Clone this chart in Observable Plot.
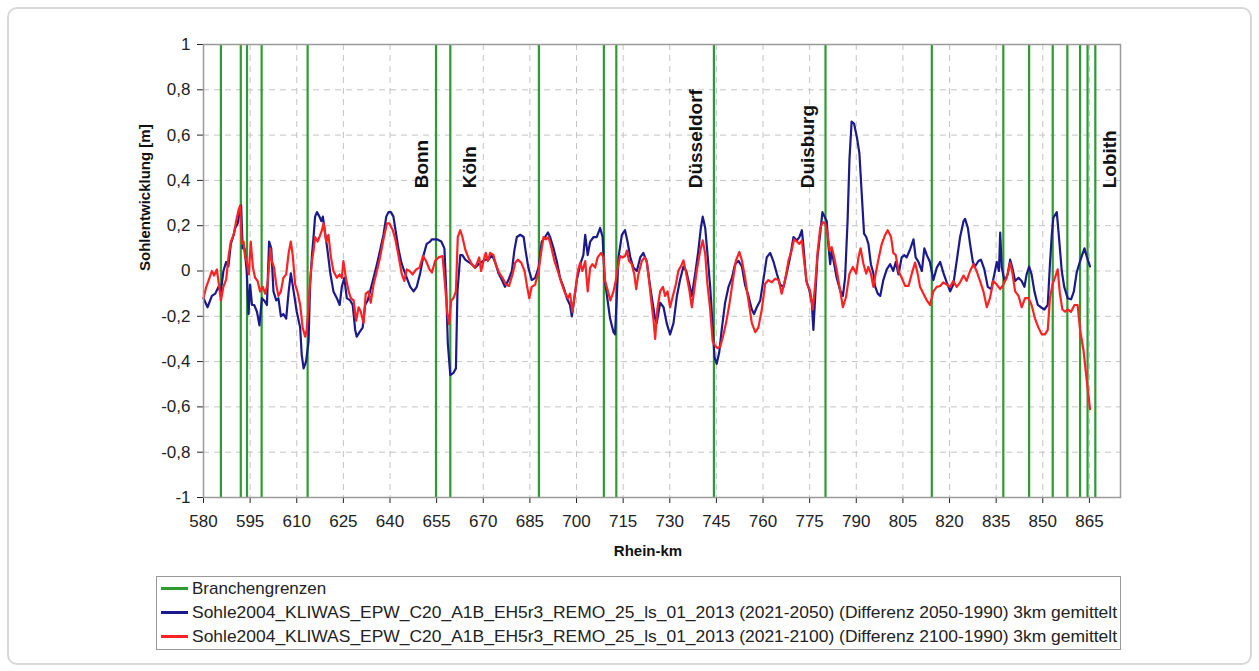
<!DOCTYPE html>
<html><head><meta charset="utf-8">
<script src="https://cdn.jsdelivr.net/npm/d3@7"></script>
<script src="https://cdn.jsdelivr.net/npm/@observablehq/plot@0.6"></script>
<style>
html,body{margin:0;padding:0;background:#fff;}
#wrap{position:relative;width:1259px;height:671px;overflow:hidden;font-family:"Liberation Sans",Arial,sans-serif;}
#border{position:absolute;left:7px;top:7px;width:1241px;height:654px;border:2px solid #d8d8d8;border-radius:10px;}
#chart{position:absolute;left:0;top:0;}
#legend{position:absolute;left:156px;top:576px;}
</style></head><body>
<div id="wrap"><div id="border"></div><div id="chart"></div><svg id="legend" width="966" height="75"></svg></div>
<script>
const xTicks = [580, 595, 610, 625, 640, 655, 670, 685, 700, 715, 730, 745, 760, 775, 790, 805, 820, 835, 850, 865];
const yTicks = [-1, -0.8, -0.6, -0.4, -0.2, 0, 0.2, 0.4, 0.6, 0.8, 1];
const branches = [585.6, 592.0, 594.0, 598.7, 613.5, 654.8, 659.4, 687.9, 708.8, 712.8, 744.2, 780.1, 814.3, 837.3, 845.6, 853.2, 857.9, 862.0, 864.4, 866.9];
const cities = [
  {name: "Bonn", km: 650.3},
  {name: "Köln", km: 665.8},
  {name: "Düsseldorf", km: 738.5},
  {name: "Duisburg", km: 774.3},
  {name: "Lobith", km: 871.6}
];
const labelAt = 0.365;
const legendLabels = [
  "Branchengrenzen",
  "Sohle2004_KLIWAS_EPW_C20_A1B_EH5r3_REMO_25_ls_01_2013 (2021-2050) (Differenz 2050-1990) 3km gemittelt",
  "Sohle2004_KLIWAS_EPW_C20_A1B_EH5r3_REMO_25_ls_01_2013 (2021-2100) (Differenz 2100-1990) 3km gemittelt"
];

// Differenz 2050-1990 (blue)
const blue = [[580.0,-0.12],[581.3,-0.16],[582.7,-0.11],[583.8,-0.10],[584.8,-0.07],[585.6,-0.09],[586.4,0.0],[587.3,0.04],[588.0,0.02],[588.8,0.12],[589.7,0.16],[590.2,0.19],[591.0,0.21],[591.6,0.26],[592.1,0.29],[592.6,0.10],[593.2,0.10],[593.9,0.0],[594.5,-0.19],[595.0,-0.06],[595.6,-0.15],[596.3,-0.15],[597.2,-0.18],[598.0,-0.24],[598.8,-0.12],[599.5,-0.13],[600.4,-0.15],[601.1,0.13],[601.8,0.10],[602.5,-0.09],[603.4,-0.13],[604.1,-0.12],[604.9,-0.20],[605.7,-0.19],[606.6,-0.21],[607.4,-0.09],[608.1,-0.01],[609.0,-0.09],[610.0,-0.18],[611.1,-0.25],[611.6,-0.37],[612.2,-0.43],[613.0,-0.40],[613.8,-0.31],[614.3,-0.06],[614.9,0.07],[615.4,0.15],[615.9,0.24],[616.5,0.26],[617.3,0.24],[617.9,0.22],[618.4,0.24],[619.2,0.16],[619.9,0.09],[620.8,-0.01],[621.8,-0.09],[622.9,-0.12],[623.8,-0.15],[624.5,-0.07],[625.3,-0.03],[626.1,-0.12],[627.2,-0.13],[628.0,-0.15],[628.8,-0.26],[629.3,-0.29],[630.2,-0.27],[631.2,-0.25],[632.0,-0.15],[632.8,-0.13],[633.6,-0.09],[634.7,-0.03],[635.8,0.03],[636.8,0.09],[637.9,0.16],[638.8,0.24],[639.5,0.26],[640.3,0.26],[641.1,0.24],[642.0,0.16],[642.7,0.10],[643.6,0.04],[644.3,0.01],[645.4,-0.03],[646.5,-0.07],[647.6,-0.09],[648.6,-0.07],[649.7,-0.01],[650.8,0.07],[651.8,0.12],[652.9,0.13],
[653.5,0.14],[655.1,0.14],[656.5,0.13],[657.5,0.10],[658.1,-0.09],[658.6,-0.32],[659.4,-0.46],[660.4,-0.45],[661.2,-0.43],[661.7,-0.09],[662.6,0.07],[663.3,0.07],[664.2,0.05],[665.2,0.04],[666.3,0.03],[667.4,0.015],[668.5,0.03],[669.5,0.04],[670.6,0.05],[671.7,0.05],[672.8,0.07],[673.8,0.04],[674.9,-0.01],[676.0,-0.04],[677.0,-0.07],[678.1,-0.04],[679.2,0.0],[680.0,0.09],[680.8,0.15],[681.9,0.16],[683.0,0.15],[683.5,0.10],[684.5,0.015],[685.6,-0.04],[686.7,-0.03],[687.8,0.015],[688.8,0.13],[689.9,0.15],[690.8,0.17],[691.5,0.15],[692.6,0.10],[693.7,0.04],[694.7,-0.03],[695.8,-0.07],[696.9,-0.12],[697.9,-0.15],[698.5,-0.20],[699.3,-0.12],[700.1,-0.04],[701.2,0.03],[702.2,0.07],[702.8,0.16],[703.6,0.07],[704.4,0.13],[705.5,0.15],[706.5,0.15],[707.6,0.19],[708.4,0.15],[709.0,-0.03],[709.7,-0.10],[710.8,-0.21],[711.9,-0.27],[712.4,-0.28],[713.0,-0.10],[713.5,0.06],[714.6,0.16],[715.6,0.18],[716.4,0.13],[717.3,0.06],[718.3,0.015],[719.4,0.0],[720.5,0.06],[721.5,0.08],[722.6,0.04],[723.7,-0.07],
[724.7,-0.16],[725.3,-0.21],[725.8,-0.23],[726.9,-0.14],[728.0,-0.16],[729.0,-0.23],[730.1,-0.28],[731.2,-0.23],[732.3,-0.11],[733.3,-0.04],[734.4,0.02],[735.3,0.0],[736.3,-0.06],[737.1,-0.11],[738.2,-0.01],[739.2,0.09],[740.0,0.19],[740.6,0.24],[741.4,0.19],[742.1,0.08],[743.0,-0.07],[743.8,-0.25],[744.4,-0.38],[745.1,-0.41],[745.9,-0.36],[746.7,-0.26],[747.8,-0.14],[748.9,-0.07],[750.0,-0.03],[751.0,0.03],[752.1,0.045],[753.2,0.02],[754.2,-0.06],[755.3,-0.11],[756.4,-0.17],[757.1,-0.19],[758.0,-0.16],[759.1,-0.13],[760.1,-0.04],[761.2,0.06],[762.3,0.08],[763.4,0.04],[764.4,-0.01],[765.5,-0.06],[766.6,-0.07],[767.6,-0.01],[768.7,0.06],[769.8,0.15],[770.9,0.135],[771.7,0.15],[772.5,0.18],[773.0,0.11],[773.9,-0.04],[774.9,-0.085],[775.7,-0.14],[776.2,-0.26],[776.8,-0.11],[777.5,0.06],[778.4,0.165],[779.1,0.26],[779.8,0.24],[780.5,0.22],[781.0,0.12],[781.6,0.03],[782.1,0.09],[782.9,0.03],[783.7,-0.03],[784.8,-0.085],[785.7,-0.11],[786.4,-0.03],[787.2,0.22],[787.8,0.49],[788.5,0.66],[789.3,0.65],[790.2,0.59],[791.0,0.52],[791.8,0.33],[792.5,0.165],[793.2,0.15],[793.9,0.12],[794.7,0.03],[795.5,-0.01],
[796.0,-0.066],[796.9,-0.10],[797.7,-0.11],[798.7,-0.04],[799.8,0.007],[800.9,0.03],[801.9,0.0],[802.7,0.04],[803.6,-0.015],[804.6,0.06],[805.5,0.07],[806.2,0.06],[807.3,0.095],[808.4,0.14],[809.1,0.06],[810.0,0.04],[811.1,0.0],[811.9,0.10],[812.7,0.07],[813.7,0.04],[814.8,-0.04],[815.9,0.015],[817.0,0.04],[818.0,-0.007],[819.1,-0.05],[820.2,-0.09],[821.2,-0.06],[822.3,0.044],[823.4,0.15],[824.5,0.22],[825.0,0.23],[825.9,0.19],[826.6,0.12],[827.5,0.04],[828.2,0.02],[829.3,0.044],[830.1,0.05],[831.2,0.007],[832.3,-0.07],[833.4,-0.08],[834.4,-0.015],[835.2,0.04],[835.9,0.0],[836.3,0.17],[836.8,0.015],[837.7,-0.044],[838.7,-0.015],[839.5,0.05],[840.2,0.015],[841.1,-0.044],[842.2,-0.03],[843.2,-0.044],[844.1,-0.07],[844.8,-0.015],[845.6,0.02],[846.4,-0.015],[847.3,-0.09],[848.4,-0.15],[849.4,-0.16],[850.5,-0.17],[851.6,-0.15],[852.3,0.03],[852.9,0.16],[853.4,0.235],[854.5,0.26],[855.2,0.15],[856.1,0.0],[856.9,-0.07],[858.0,-0.12],[859.1,-0.125],[860.0,-0.09],[860.9,-0.007],[862.0,0.044],[863.4,0.10],[864.1,0.066],[865.2,0.02]];

// Differenz 2100-1990 (red)
const red = [[580.0,-0.12],[580.9,-0.07],[581.6,-0.044],[582.7,0.0],[583.4,-0.02],[584.3,0.007],[584.8,-0.044],[585.6,-0.13],[586.4,-0.07],[587.3,-0.037],[588.1,0.07],[588.8,0.13],[589.7,0.16],[590.5,0.22],[591.3,0.27],[591.8,0.29],[592.3,0.12],[592.9,0.13],[593.4,0.06],[593.9,0.044],[594.6,-0.015],[595.2,0.13],[595.9,0.015],[596.6,-0.03],[597.4,-0.044],[598.2,-0.09],[599.1,-0.07],[599.8,-0.10],[600.6,-0.06],[601.5,0.10],[602.0,0.044],[602.7,0.015],[603.4,-0.06],[604.1,-0.11],[604.9,-0.09],[605.7,-0.03],[606.6,-0.015],[607.4,0.08],[608.1,0.13],[608.7,0.07],[609.5,-0.06],[610.2,-0.09],[611.1,-0.15],[611.9,-0.25],[612.7,-0.29],[613.2,-0.26],[613.8,-0.16],[614.3,-0.044],[614.9,0.044],[615.4,0.09],[615.9,0.15],[616.7,0.13],[617.3,0.15],[618.1,0.18],[618.6,0.21],[619.5,0.13],[620.2,0.16],[621.0,0.06],[621.8,0.0],[622.9,-0.03],[623.8,-0.015],[624.5,-0.03],[625.0,0.044],[625.8,-0.03],[626.7,-0.09],[627.4,-0.12],[628.3,-0.13],[629.1,-0.22],[629.9,-0.16],[630.6,-0.18],[631.5,-0.23],[632.2,-0.10],[633.1,-0.09],[633.8,-0.14],[634.7,-0.06],[635.8,0.0],[636.8,0.06],[637.9,0.14],[639.0,0.21],[639.8,0.21],[640.9,0.18],[641.7,0.14],[642.7,0.07],[643.8,-0.015],[644.6,-0.044],[645.4,0.007],[646.3,0.0],[647.3,-0.015],[648.4,0.007],[649.5,0.015],[650.6,0.066],[651.6,0.044],[652.7,0.007],
[653.5,-0.007],[654.5,0.044],[655.6,0.06],[656.9,0.066],[657.7,-0.06],[658.4,-0.18],[659.0,-0.235],[659.7,-0.13],[660.4,-0.12],[661.2,-0.09],[661.8,0.15],[662.6,0.18],[663.3,0.15],[664.2,0.095],[665.2,0.06],[666.3,0.03],[667.2,0.015],[667.9,0.03],[668.7,0.06],[669.3,0.0],[670.1,0.044],[670.8,0.08],[671.5,0.044],[672.2,0.08],[673.3,0.07],[674.0,0.03],[675.1,-0.007],[676.2,-0.03],[677.3,-0.06],[678.3,-0.066],[679.4,-0.015],[680.3,0.037],[681.1,0.05],[682.2,0.037],[683.3,0.0],[684.0,-0.06],[684.8,-0.12],[685.6,-0.07],[686.7,-0.06],[687.8,0.0],[688.6,0.08],[689.4,0.15],[690.1,0.14],[691.0,0.15],[691.8,0.11],[692.9,0.044],[694.0,0.0],[695.1,-0.05],[696.1,-0.09],[697.2,-0.12],[697.9,-0.10],[698.7,-0.18],[699.6,-0.09],[700.4,0.0],[701.2,0.037],[701.9,0.0],[702.8,0.044],[703.6,-0.09],[704.4,0.015],[705.1,0.03],[706.0,0.015],[706.8,0.06],[707.9,0.08],[708.7,0.06],[709.2,-0.044],[710.1,-0.09],[710.9,-0.13],[711.9,-0.09],[712.6,-0.044],[713.3,0.015],[714.0,0.066],[714.8,0.06],[715.6,0.066],[716.2,0.09],[716.9,0.044],[717.8,0.03],[718.6,-0.015],[719.2,-0.08],[719.9,-0.015],[721.0,0.044],[721.9,0.06],[722.6,0.044],[723.4,-0.05],
[724.2,-0.15],[724.8,-0.22],[725.3,-0.30],[726.0,-0.17],[726.9,-0.09],[727.8,-0.07],[728.5,-0.11],[729.3,-0.09],[730.1,-0.16],[731.0,-0.11],[732.0,-0.056],[732.8,0.003],[733.5,0.018],[734.4,0.047],[735.3,-0.012],[736.3,-0.085],[737.1,-0.16],[737.8,-0.09],[738.7,0.003],[739.8,0.09],[740.6,0.135],[741.4,0.076],[742.1,-0.056],[743.0,-0.17],[743.8,-0.31],[744.6,-0.33],[745.3,-0.34],[746.2,-0.335],[747.1,-0.29],[748.1,-0.23],[749.2,-0.145],[750.3,-0.04],[751.3,0.047],[752.4,0.084],[753.2,0.047],[754.2,-0.026],[755.3,-0.13],[756.4,-0.23],[757.5,-0.27],[758.5,-0.25],[759.6,-0.17],[760.7,-0.056],[761.7,-0.04],[762.8,-0.05],[763.9,-0.034],[765.0,-0.04],[766.0,-0.10],[767.1,-0.04],[768.2,0.047],[769.2,0.09],[770.0,0.14],[770.9,0.13],[771.7,0.12],[772.5,0.135],[773.2,0.047],[774.1,-0.056],[775.1,-0.085],[776.0,-0.17],[776.8,-0.056],[777.6,0.09],[778.4,0.19],[779.2,0.216],[780.0,0.21],[780.7,0.17],[781.4,0.09],[782.1,0.105],[782.9,0.06],[783.7,0.003],[784.8,-0.085],[785.7,-0.16],[786.7,-0.115],[787.8,-0.012],[788.9,0.018],[790.0,-0.012],[790.7,0.06],[791.4,0.10],[792.3,0.032],[793.2,-0.012],[793.9,0.018],[794.7,-0.012],[795.5,-0.07],
[796.0,-0.03],[797.1,0.05],[798.2,0.12],[799.3,0.16],[800.1,0.18],[801.2,0.15],[801.9,0.08],[802.7,0.07],[803.6,0.0],[804.6,-0.03],[805.7,-0.066],[806.8,-0.066],[807.8,-0.015],[808.9,0.037],[809.8,-0.015],[810.5,-0.07],[811.6,-0.10],[812.7,-0.13],[813.7,-0.15],[814.8,-0.09],[815.9,-0.07],[817.0,-0.066],[818.0,-0.05],[819.1,-0.06],[820.2,-0.07],[821.2,-0.044],[822.3,-0.07],[823.4,-0.05],[824.5,-0.02],[825.5,-0.044],[826.6,0.0],[827.7,0.03],[828.7,0.0],[829.8,-0.044],[830.9,-0.09],[832.0,-0.16],[833.0,-0.12],[834.1,-0.044],[835.2,-0.06],[836.3,-0.08],[837.3,-0.06],[838.4,-0.03],[839.5,0.037],[840.2,-0.007],[841.1,-0.09],[842.2,-0.11],[843.2,-0.16],[844.3,-0.12],[845.4,-0.12],[846.4,-0.15],[847.5,-0.21],[848.6,-0.25],[849.7,-0.28],[850.7,-0.28],[851.6,-0.26],[852.3,-0.12],[853.1,-0.06],[853.9,-0.03],[854.8,0.007],[855.5,-0.10],[856.3,-0.17],[857.2,-0.18],[858.0,-0.17],[859.1,-0.18],[860.2,-0.15],[861.2,-0.15],[862.0,-0.26],[863.1,-0.35],[863.8,-0.44],[864.6,-0.54],[865.2,-0.61]];

const GREEN = "#2f9a2f", NAVY = "#1a1a8c", RED = "#ff2222";
const fmtY = v => String(+v.toFixed(1)).replace(".", ",");

const chart = Plot.plot({
  width: 1259, height: 565,
  marginTop: 44, marginLeft: 203, marginRight: 139, marginBottom: 68,
  style: {fontFamily: "Liberation Sans, Arial, sans-serif", fontSize: "17px", color: "#222", background: "transparent"},
  x: {domain: [580, 875], ticks: xTicks, tickSize: 6, tickPadding: 11, label: null},
  y: {domain: [-1, 1], ticks: yTicks, tickSize: 6, tickPadding: 7, tickFormat: fmtY, label: null},
  marks: [
    Plot.ruleX(xTicks, {stroke: "#c4c4c4", strokeDasharray: "6,5"}),
    Plot.ruleY(yTicks, {stroke: "#c4c4c4", strokeDasharray: "6,5"}),
    Plot.ruleX(branches, {stroke: GREEN, strokeWidth: 2.2}),
    Plot.line(blue, {x: d => d[0], y: d => d[1], stroke: NAVY, strokeWidth: 2.2}),
    Plot.line(red, {x: d => d[0], y: d => d[1], stroke: RED, strokeWidth: 2.2}),
    Plot.frame({stroke: "#9a9a9a", strokeWidth: 1.5}),
    Plot.text(cities, {x: "km", y: () => labelAt, text: "name", rotate: -90, textAnchor: "start", lineAnchor: "middle", fontWeight: "bold", fontSize: 19, fill: "#111"}),
    Plot.text(["Sohlentwicklung [m]"], {text: d => d, frameAnchor: "left", dx: -58, rotate: -90, lineAnchor: "middle", fontWeight: "bold", fontSize: 15, fill: "#111"}),
    Plot.text(["Rhein-km"], {text: d => d, frameAnchor: "bottom", dx: -14, dy: 54, lineAnchor: "middle", fontWeight: "bold", fontSize: 15, fill: "#111"})
  ]
});
document.getElementById("chart").appendChild(chart);

// legend
const lg = d3.select("#legend");
lg.append("rect").attr("x", 0.5).attr("y", 0.5).attr("width", 964).attr("height", 73)
  .attr("fill", "#fff").attr("stroke", "#999");
const colors = [GREEN, NAVY, RED];
legendLabels.forEach((t, i) => {
  const cy = 12.5 + i * 24;
  lg.append("line").attr("x1", 5).attr("x2", 32).attr("y1", cy).attr("y2", cy)
    .attr("stroke", colors[i]).attr("stroke-width", 3);
  const tx = lg.append("text").attr("x", 36).attr("y", cy).attr("dy", "0.35em")
    .attr("font-family", "Liberation Sans, Arial, sans-serif").attr("font-size", 17).attr("fill", "#222").text(t);
  if (i > 0) tx.attr("textLength", 925).attr("lengthAdjust", "spacingAndGlyphs");
});
</script>
</body></html>
